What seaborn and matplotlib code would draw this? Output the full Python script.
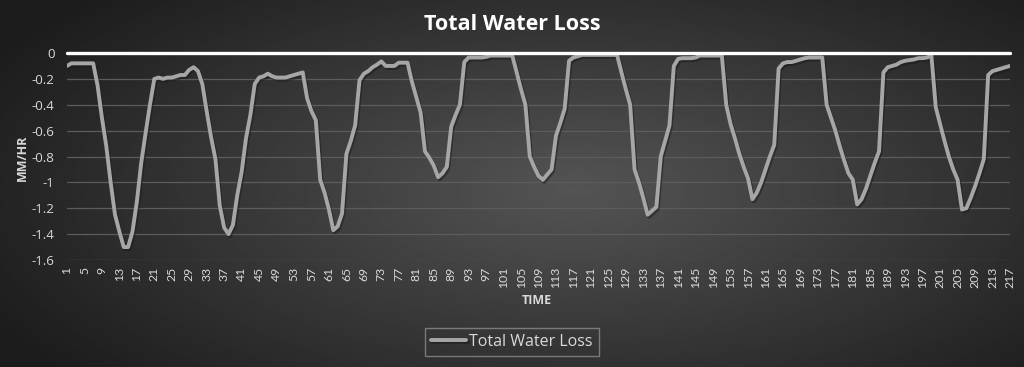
import numpy as np
import pandas as pd
import matplotlib
matplotlib.use("Agg")
import matplotlib.pyplot as plt
import matplotlib.patheffects as pe
import seaborn as sns

# hourly series (MM/HR)
time_steps = list(range(1, 218))
water_loss = [
    -0.10, -0.08, -0.08, -0.08, -0.08, -0.08, -0.08, -0.25, -0.50, -0.72,
    -1.00, -1.25, -1.38, -1.50, -1.50, -1.38, -1.15, -0.85, -0.62, -0.40,
    -0.20, -0.19, -0.20, -0.19, -0.19, -0.18, -0.17, -0.17, -0.13, -0.11,
    -0.14, -0.24, -0.45, -0.65, -0.82, -1.18, -1.35, -1.40, -1.33, -1.10,
    -0.92, -0.66, -0.48, -0.24, -0.19, -0.18, -0.16, -0.18, -0.19, -0.19,
    -0.19, -0.18, -0.17, -0.16, -0.15, -0.35, -0.45, -0.52, -0.98, -1.08,
    -1.21, -1.37, -1.34, -1.24, -0.78, -0.68, -0.56, -0.21, -0.16, -0.14,
    -0.11, -0.09, -0.065, -0.10, -0.10, -0.10, -0.075, -0.075, -0.075, -0.22,
    -0.34, -0.46, -0.76, -0.81, -0.87, -0.96, -0.93, -0.88, -0.57, -0.48,
    -0.40, -0.07, -0.035, -0.035, -0.035, -0.035, -0.03, -0.02, -0.02, -0.02,
    -0.02, -0.02, -0.02, -0.15, -0.28, -0.40, -0.80, -0.88, -0.95, -0.98,
    -0.94, -0.90, -0.64, -0.54, -0.43, -0.06, -0.035, -0.025, -0.015, -0.015,
    -0.015, -0.015, -0.015, -0.015, -0.015, -0.015, -0.015, -0.15, -0.28, -0.40,
    -0.90, -1.00, -1.12, -1.25, -1.22, -1.19, -0.80, -0.68, -0.56, -0.10,
    -0.045, -0.04, -0.04, -0.04, -0.035, -0.02, -0.02, -0.02, -0.02, -0.02,
    -0.02, -0.40, -0.55, -0.66, -0.78, -0.88, -0.97, -1.13, -1.08, -1.00,
    -0.90, -0.80, -0.71, -0.12, -0.08, -0.07, -0.07, -0.06, -0.05, -0.04,
    -0.035, -0.035, -0.035, -0.035, -0.40, -0.50, -0.60, -0.72, -0.83, -0.93,
    -0.98, -1.17, -1.13, -1.05, -0.95, -0.85, -0.76, -0.15, -0.11, -0.10,
    -0.09, -0.07, -0.06, -0.055, -0.05, -0.04, -0.04, -0.035, -0.02, -0.42,
    -0.55, -0.68, -0.80, -0.90, -0.98, -1.21, -1.20, -1.12, -1.03, -0.93,
    -0.82, -0.17, -0.14, -0.13, -0.12, -0.11, -0.10,
]
x_tick_labels = [str(t) for t in range(1, 218, 4)]
y_ticks = [0, -0.2, -0.4, -0.6, -0.8, -1, -1.2, -1.4, -1.6]
y_tick_labels = ["0", "-0.2", "-0.4", "-0.6", "-0.8", "-1", "-1.2", "-1.4", "-1.6"]
series_name = "Total Water Loss"

df = pd.DataFrame({"time": time_steps, "loss": water_loss})

sns.set_theme(style="dark")
plt.rcParams["font.family"] = ["Open Sans", "DejaVu Sans"]

txt_color = "#d9d9d9"
line_color = "#a6a6a6"

fig = plt.figure(figsize=(10.24, 3.67), dpi=100)

# radial grey background like the Excel chart style
bg = fig.add_axes([0, 0, 1, 1], zorder=-10)
gx, gy = np.meshgrid(np.linspace(0, 1, 400), np.linspace(0, 1, 160))
r = np.sqrt(((gx - 0.56) / 0.62) ** 2 + ((gy - 0.52) / 0.75) ** 2)
shade = np.clip(0.33 - 0.21 * r, 0.11, 0.33)
bg.imshow(shade, cmap="gray", vmin=0, vmax=1, aspect="auto", extent=[0, 1, 0, 1])
bg.axis("off")

ax = fig.add_axes([67 / 1024, 1 - 260 / 367, 943 / 1024, 207 / 367])
ax.set_facecolor("none")

sns.lineplot(data=df, x="time", y="loss", ax=ax, color=line_color, linewidth=2.8,
             label=series_name, legend=False,
             path_effects=[pe.SimpleLineShadow(offset=(1, -1.5), alpha=0.5), pe.Normal()])

ax.axhline(0, color="white", linewidth=2.4, clip_on=False, zorder=5)

ax.set_xlim(1, 217)
ax.set_ylim(-1.6, 0)
ax.set_yticks(y_ticks)
ax.set_yticklabels(y_tick_labels, color=txt_color, fontsize=9.5)
ax.set_xticks([int(t) for t in x_tick_labels])
ax.set_xticklabels(x_tick_labels, rotation=90, color=txt_color, fontsize=8.8,
                   family=["Lato", "DejaVu Sans"])
ax.tick_params(axis="y", length=0, pad=9)
ax.tick_params(axis="x", length=0, pad=5)
ax.grid(axis="y", color="#5c5c5c", linewidth=0.9)
ax.grid(axis="x", visible=False)
for s in ax.spines.values():
    s.set_visible(False)
ax.set_xlabel("")
ax.set_ylabel("")

fig.text(0.5, 1 - 24 / 367, "Total Water Loss", ha="center", va="center",
         color="white", fontsize=15.5, fontweight="bold")
fig.text(22 / 1024, 1 - 158 / 367, "MM/HR", rotation=90, ha="center", va="center",
         color=txt_color, fontsize=9, fontweight="bold")
fig.text(537 / 1024, 1 - 300 / 367, "TIME", ha="center", va="center",
         color=txt_color, fontsize=9, fontweight="bold")

handles, labels = ax.get_legend_handles_labels()
leg = fig.legend(handles, labels, loc="center", bbox_to_anchor=(0.5, 1 - 342 / 367),
                 frameon=True, fancybox=False, fontsize=11.5, handlelength=2.2,
                 borderpad=0.4, handletextpad=0.2)
leg.get_frame().set_facecolor("none")
leg.get_frame().set_edgecolor("#8c8c8c")
leg.get_frame().set_linewidth(1.0)
for t in leg.get_texts():
    t.set_color(txt_color)

fig.savefig("out.png", dpi=100)
